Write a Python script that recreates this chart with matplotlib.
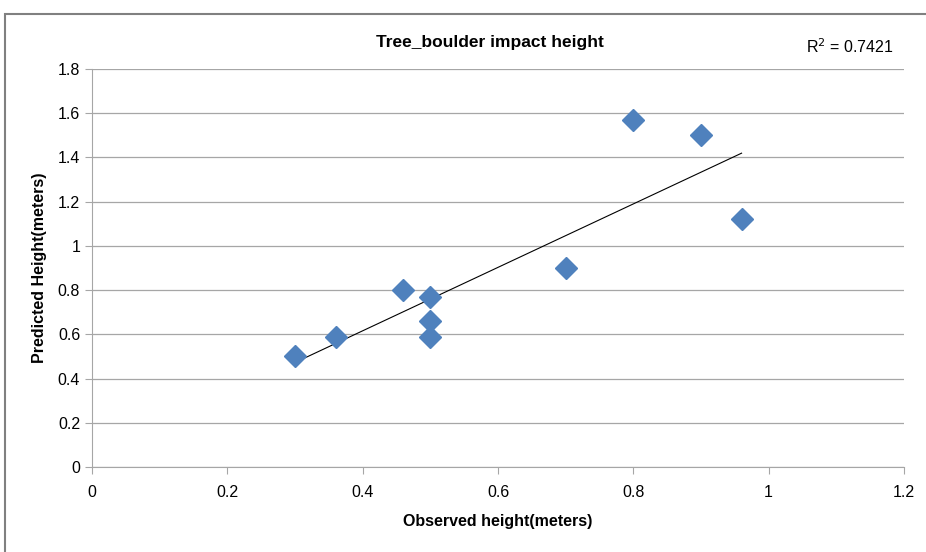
import numpy as np
import matplotlib.pyplot as plt
from matplotlib.patches import Rectangle

plt.rcParams.update({
    "font.family": ["Liberation Sans", "DejaVu Sans"],
    "font.size": 11,
})

observed = [0.30, 0.36, 0.46, 0.50, 0.50, 0.50, 0.70, 0.80, 0.90, 0.96]
predicted = [0.50, 0.59, 0.80, 0.77, 0.66, 0.59, 0.90, 1.57, 1.50, 1.12]
r2_text = "R$^2$ = 0.7421"
x_ticks = [0, 0.2, 0.4, 0.6, 0.8, 1, 1.2]
y_ticks = [0, 0.2, 0.4, 0.6, 0.8, 1, 1.2, 1.4, 1.6, 1.8]


def main():
    fig = plt.figure(figsize=(9.26, 5.52), dpi=100)
    ax = fig.add_axes([0.0994, 0.154, 0.8768, 0.721])

    # outer chart frame (cropped at right/bottom)
    fig.patches.append(Rectangle((5 / 926, -0.1), 1.2, (552 - 14) / 552 + 0.1,
                                 transform=fig.transFigure, fill=False,
                                 edgecolor="#808080", linewidth=1.5))

    x = np.array(observed)
    y = np.array(predicted)
    slope, intercept = np.polyfit(x, y, 1)
    xs = np.array([x.min(), x.max()])
    ax.plot(xs, slope * xs + intercept, color="black", linewidth=0.8, zorder=2)
    ax.plot(x, y, linestyle="none", marker="D", markersize=11,
            color="#4F81BD", markeredgecolor="#4F81BD", zorder=3)

    ax.set_xlim(0, 1.2)
    ax.set_ylim(0, 1.8)
    ax.set_xticks(x_ticks)
    ax.set_yticks(y_ticks)
    ax.set_xticklabels([f"{t:g}" for t in x_ticks])
    ax.set_yticklabels([f"{t:g}" for t in y_ticks])
    ax.yaxis.grid(True, color="#a6a6a6", linewidth=0.9)
    ax.set_axisbelow(True)
    for s in ["top", "right"]:
        ax.spines[s].set_visible(False)
    for s in ["left", "bottom"]:
        ax.spines[s].set_color("#a6a6a6")
    ax.tick_params(colors="#a6a6a6", labelcolor="black", length=5, labelsize=11.5)
    ax.tick_params(axis="x", pad=8)

    ax.set_xlabel("Observed height(meters)", fontweight="bold", fontsize=11.5, labelpad=10)
    ax.set_ylabel("Predicted Height(meters)", fontweight="bold", fontsize=11.5, labelpad=8)
    fig.text(490 / 926, 1 - 42 / 552, "Tree_boulder impact height", ha="center",
             va="center", fontweight="bold", fontsize=12.5)
    fig.text(850 / 926, 1 - 47 / 552, r2_text, ha="center", va="center", fontsize=11.5)

    fig.savefig("out.png", dpi=100)
    plt.close(fig)


if __name__ == "__main__":
    main()
